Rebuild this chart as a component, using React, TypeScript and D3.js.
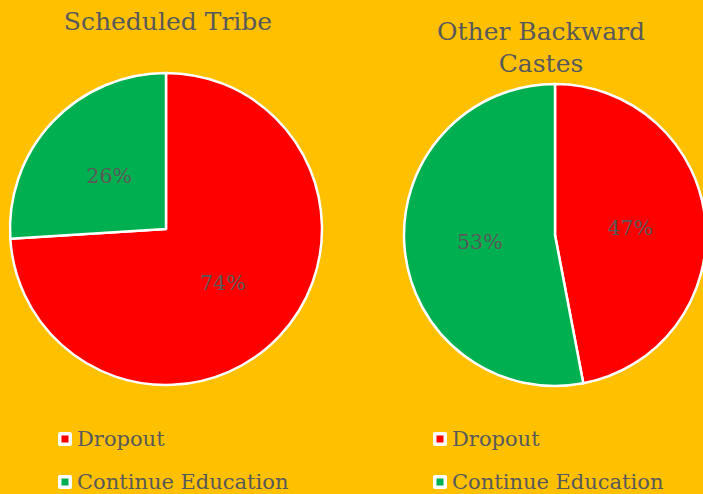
import React from 'react'
import * as d3 from 'd3'

const categories = ['Dropout', 'Continue Education']
const colors = ['#FF0000', '#00B050']
const tribeValues = [74, 26]
const obcValues = [47, 53]
const titles = [['Scheduled Tribe'], ['Other Backward', 'Castes']]

const W = 703
const H = 494
const FONT = '"DejaVu Serif", Georgia, serif'
const TEXT = '#595959'

function Pie({ values, cx, cy, r, title, titleX, titleY }) {
    const pie = d3.pie().value(d => d).sort(null)
    const arcs = pie(values)
    const arc = d3.arc().innerRadius(0).outerRadius(r)
    const labelArc = d3.arc().innerRadius(r * 0.5).outerRadius(r * 0.5)
    return <g>
        {title.map((t, i) => <text key={t} x={titleX} y={titleY + i * 32} textAnchor="middle" fontSize={25} fill={TEXT} fontFamily={FONT}>{t}</text>)}
        <g transform={`translate(${cx},${cy})`}>
            {arcs.map((a, i) => <path key={i} d={arc(a)} fill={colors[i]} stroke="#fff" strokeWidth={2.5} strokeLinejoin="round"></path>)}
            {arcs.map((a, i) => {
                const [x, y] = labelArc.centroid(a)
                return <text key={'l' + i} x={x} y={y} dy="0.35em" textAnchor="middle" fontSize={20.5} fill={TEXT} fontFamily={FONT}>{values[i]}%</text>
            })}
        </g>
    </g>
}

function Legend({ x, y }) {
    return <g>
        {categories.map((c, i) => <g key={c} transform={`translate(${x},${y + i * 43})`}>
            <rect x={0} y={-7} width={14} height={14} rx={2} fill="#fff"></rect>
            <rect x={3.5} y={-3.5} width={7} height={7} fill={colors[i]}></rect>
            <text x={19} y={0} dy="0.35em" fontSize={21} fill={TEXT} fontFamily={FONT}>{c}</text>
        </g>)}
    </g>
}

export default function App() {
    return <svg width={W} height={H} style={{ position: 'absolute', left: 0, top: 0, background: '#FFC000' }}>
        <rect width={W} height={H} fill="#FFC000"></rect>
        <Pie values={tribeValues} cx={166} cy={229} r={156} title={titles[0]} titleX={168} titleY={30} />
        <Pie values={obcValues} cx={555} cy={235} r={151} title={titles[1]} titleX={541} titleY={40} />
        <Legend x={58} y={439} />
        <Legend x={433} y={439} />
    </svg>
}
